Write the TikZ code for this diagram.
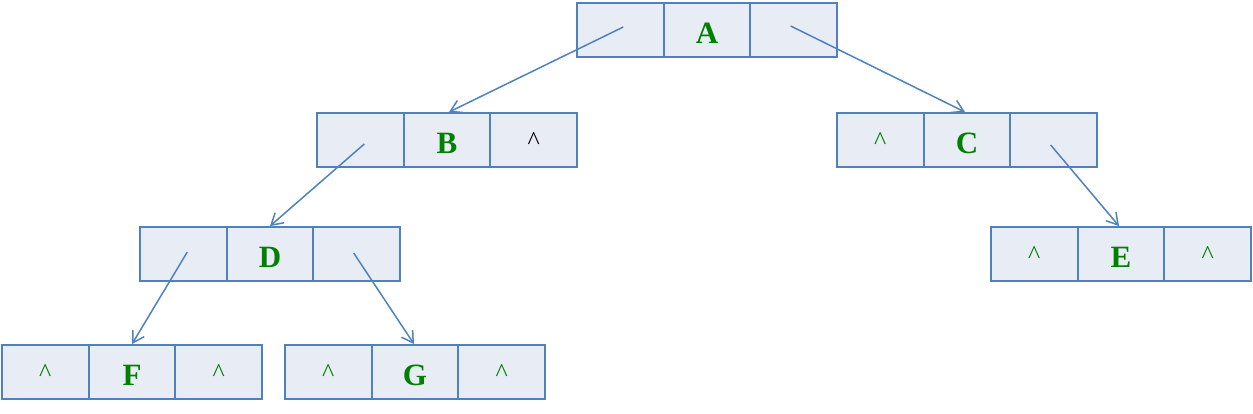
\documentclass[tikz,border=0pt]{standalone}
\usepackage{fontspec}
\setmainfont{Liberation Serif}
\usetikzlibrary{arrows.meta}
\definecolor{cellfill}{HTML}{E8ECF4}
\definecolor{celledge}{HTML}{4F81BD}
\definecolor{lettergreen}{HTML}{008000}
\tikzset{
  cell/.style={draw=celledge, fill=cellfill, line width=1.9pt, minimum width=86.7pt, minimum height=54pt, inner sep=0pt, anchor=center},
  letter/.style={font=\fontsize{31}{34}\selectfont\bfseries, text=lettergreen},
  nil/.style={font=\fontsize{26}{30}\selectfont, text=lettergreen},
  nilblack/.style={font=\fontsize{26}{30}\selectfont, text=black},
  link/.style={draw=celledge, line width=1.5pt, -{Straight Barb[angle=62:13pt, line width=1.5pt]}}
}
\newcommand{\rec}[4]{%
  \node[cell] (#1L) at (#2,#3) {};
  \node[cell] (#1M) at (#2+86.7,#3) {};
  \node[cell] (#1R) at (#2+173.4,#3) {};
  \node[letter] (#1t) at ([yshift=-3pt]#1M.center) {#4};
}
\begin{document}
\begin{tikzpicture}[x=1pt,y=-1pt]
\useasboundingbox (0,0) rectangle (1253,413);
% records: left cell center x, row center y
\rec{A}{620.3}{30}{A}
\rec{B}{360.3}{140}{B}
\rec{C}{880.3}{140}{C}
\rec{D}{183.3}{254}{D}
\rec{E}{1034.3}{254}{E}
\rec{F}{45.3}{372}{F}
\rec{G}{328.3}{372}{G}
% null markers
\node[nilblack] (Bn) at ([yshift=-1pt]BR.center) {\textasciicircum};
\node[nil] (Cn) at ([yshift=-1pt]CL.center) {\textasciicircum};
\node[nil] (En1) at ([yshift=-1pt]EL.center) {\textasciicircum};
\node[nil] (En2) at ([yshift=-1pt]ER.center) {\textasciicircum};
\node[nil] (Fn1) at ([yshift=-1pt]FL.center) {\textasciicircum};
\node[nil] (Fn2) at ([yshift=-1pt]FR.center) {\textasciicircum};
\node[nil] (Gn1) at ([yshift=-1pt]GL.center) {\textasciicircum};
\node[nil] (Gn2) at ([yshift=-1pt]GR.center) {\textasciicircum};
% pointers
\coordinate (pAL) at ([shift={(3pt,3pt)}]AL.center);
\coordinate (pAR) at ([shift={(-3pt,4pt)}]AR.center);
\coordinate (pBL) at ([shift={(4pt,-4pt)}]BL.center);
\coordinate (pCR) at ([shift={(-3pt,-5pt)}]CR.center);
\coordinate (pDL) at ([shift={(4pt,2pt)}]DL.center);
\coordinate (pDR) at ([shift={(-3pt,1pt)}]DR.center);
\draw[link] (pAL) -- ([xshift=2pt]BM.north);
\draw[link] (pAR) -- ([xshift=-2pt]CM.north);
\draw[link] (pBL) -- (DM.north);
\draw[link] (pCR) -- ([xshift=-2pt]EM.north);
\draw[link] (pDL) -- (FM.north);
\draw[link] (pDR) -- ([xshift=-1pt]GM.north);
\end{tikzpicture}
\end{document}
